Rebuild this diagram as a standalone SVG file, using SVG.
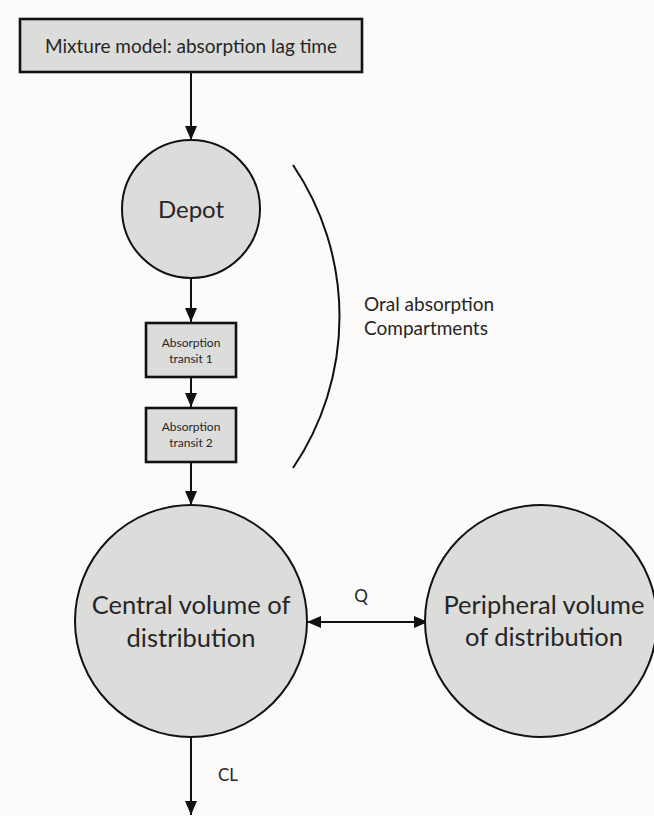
<svg xmlns="http://www.w3.org/2000/svg" width="654" height="816" viewBox="0 0 654 816">
<defs>
<style>
.bg{fill:#fcfbfa}
.box{fill:#dcdcda;stroke:#111;stroke-width:2.6}
.node{fill:#dcdcda;stroke:#111;stroke-width:2}
.edge{stroke:#111;stroke-width:2;fill:none}
text{font-family:Lato,"Open Sans","Liberation Sans",sans-serif;fill:#262626;text-anchor:middle}
.t20{font-size:19px}
.t26{font-size:24px}
.t12{font-size:12px}
.t24{font-size:25.5px}
.t17{font-size:17px}
.left{text-anchor:start}
</style>
<marker id="ah" viewBox="0 0 14 12" refX="14" refY="6" markerWidth="14" markerHeight="12" markerUnits="userSpaceOnUse" orient="auto-start-reverse">
<path d="M0,0 L14,6 L0,12 Z" fill="#111"/>
</marker>
</defs>
<rect class="bg" x="0" y="0" width="654" height="816"/>
<g id="connectors">
<line class="edge" x1="191" y1="72" x2="191" y2="140" marker-end="url(#ah)"/>
<line class="edge" x1="191" y1="278" x2="191" y2="322" marker-end="url(#ah)"/>
<line class="edge" x1="191" y1="377" x2="191" y2="407" marker-end="url(#ah)"/>
<line class="edge" x1="191" y1="462" x2="191" y2="505" marker-end="url(#ah)"/>
<line class="edge" x1="307" y1="622" x2="428" y2="622" marker-start="url(#ah)" marker-end="url(#ah)"/>
<line class="edge" x1="191" y1="737" x2="191" y2="815" marker-end="url(#ah)"/>
<text class="t17" x="361" y="602">Q</text>
<text class="t17 left" x="218" y="781">CL</text>
</g>
<g id="mixture">
<rect class="box" x="20" y="19" width="342" height="53"/>
<text class="t20" x="191" y="53">Mixture model: absorption lag time</text>
</g>
<g id="depot">
<circle class="node" cx="191" cy="209" r="69"/>
<text class="t26" x="191" y="218">Depot</text>
</g>
<g id="transit1">
<rect class="box" x="146" y="323" width="90" height="54"/>
<text class="t12" x="191" y="347">Absorption</text>
<text class="t12" x="191" y="363">transit 1</text>
</g>
<g id="transit2">
<rect class="box" x="146" y="408" width="90" height="54"/>
<text class="t12" x="191" y="431">Absorption</text>
<text class="t12" x="191" y="447">transit 2</text>
</g>
<g id="oral">
<path class="edge" d="M293,165 A270,270 0 0 1 293,468"/>
<text class="t20 left" x="364" y="311">Oral absorption</text>
<text class="t20 left" x="364" y="335">Compartments</text>
</g>
<g id="central">
<circle class="node" cx="191" cy="621" r="116"/>
<text class="t24" x="191" y="614">Central volume of</text>
<text class="t24" x="191" y="647">distribution</text>
</g>
<g id="peripheral">
<circle class="node" cx="541" cy="621" r="116"/>
<text class="t24" x="544" y="614">Peripheral volume</text>
<text class="t24" x="544" y="646">of distribution</text>
</g>
</svg>
